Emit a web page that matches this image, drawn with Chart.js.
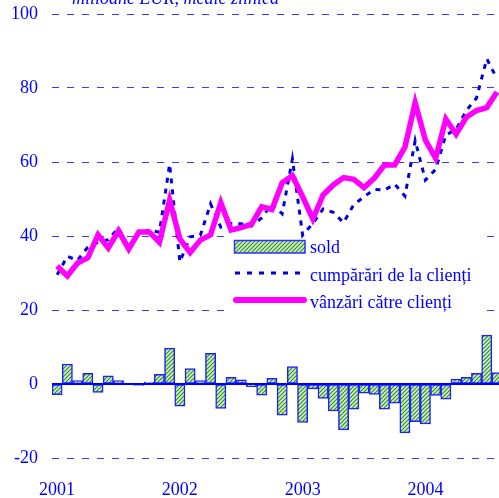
<!DOCTYPE html>
<html>
<head>
<meta charset="utf-8">
<script src="https://cdn.jsdelivr.net/npm/chart.js@4.4.0/dist/chart.umd.min.js"></script>
<style>
html, body { margin: 0; padding: 0; overflow: hidden; background: #fff; }
#wrap { width: 499px; height: 498px; overflow: hidden; }
</style>
</head>
<body>
<div id="wrap"><canvas id="grafic" width="510" height="498"></canvas></div>
<script>
// lunile si anii de pe axa x
var lunileAnului = ['ian', 'feb', 'mar', 'apr', 'mai', 'iun', 'iul', 'aug', 'sep', 'oct', 'noi', 'dec'];
var ani = ['2001', '2002', '2003', '2004'];
var nrLuni = 44; // ian 2001 - aug 2004 (ultima luna taiata de margine)

// milioane EUR, medie zilnica
var sold = [
    -2.9, 5.4, 0.9, 2.9, -2.3, 2.2, 0.9, 0.2, -0.4, 0.5, 2.6, 9.7,
    -6.0, 4.2, 0.9, 8.3, -6.6, 1.8, 1.1, -0.7, -3.0, 1.5, -8.4, 4.7,
    -10.4, -1.3, -3.9, -7.3, -12.4, -6.8, -2.5, -2.8, -6.8, -5.2, -13.2, -10.2,
    -10.8, -3.1, -4.1, 1.3, 1.8, 2.9, 13.2, 3.1
];
var cumparari = [
    29.5, 34.5, 33.4, 37.0, 38.3, 39.0, 42.2, 36.8, 40.7, 41.6, 41.0, 59.4,
    33.0, 39.8, 40.2, 48.7, 42.4, 43.4, 43.3, 42.7, 44.9, 48.7, 46.0, 60.8,
    40.2, 43.4, 47.3, 46.4, 43.6, 48.5, 50.6, 52.6, 52.4, 54.0, 50.8, 65.8,
    55.1, 58.0, 67.3, 68.8, 73.9, 77.3, 87.9, 82.5
];
var vanzari = [
    31.9, 29.2, 32.7, 34.1, 40.3, 36.8, 41.4, 36.5, 41.1, 41.1, 38.3, 49.7,
    39.2, 35.5, 38.9, 40.3, 49.0, 41.6, 42.3, 43.2, 47.9, 47.2, 54.4, 56.3,
    50.6, 44.6, 51.1, 53.8, 55.8, 55.3, 53.1, 55.6, 59.2, 59.2, 64.0, 76.0,
    65.9, 61.0, 71.6, 67.5, 72.1, 73.9, 74.7, 78.9
];
var numeSerii = ['sold', 'cumpărări de la clienți', 'vânzări către clienți'];
var titlu = 'milioane EUR, medie zilnică';

var luni = [];
ani.forEach(an => {
    lunileAnului.forEach(l => luni.push(l + ' ' + an));
});
luni = luni.slice(0, nrLuni);

const culori = {
    albastru: '#0000ff',
    grila: '#3a3aff',
    punctat: '#0000dd',
    magenta: '#ff00ff',
    verdeDeschis: '#d6f2c4',
    verdeInchis: '#2f8f2f'
};
const font = "'Liberation Serif', 'Times New Roman', serif";

// hasura verde pentru bare
function hasura() {
    let c = document.createElement('canvas');
    c.width = 4;
    c.height = 4;
    let x = c.getContext('2d');
    x.fillStyle = culori.verdeDeschis;
    x.fillRect(0, 0, 4, 4);
    x.strokeStyle = culori.verdeInchis;
    x.lineWidth = 1.2;
    x.beginPath();
    x.moveTo(-1, 5); x.lineTo(5, -1);
    x.moveTo(-1, 1); x.lineTo(1, -1);
    x.moveTo(3, 5); x.lineTo(5, 3);
    x.stroke();
    return document.getElementById('grafic').getContext('2d').createPattern(c, 'repeat');
}
const model = hasura();

// linia zero, titlul si legenda
const extra = {
    id: 'extra',
    beforeDatasetsDraw(chart) {
        let ctx = chart.ctx;
        ctx.save();
        ctx.fillStyle = '#fff';
        ctx.fillRect(230, 233, 252, 83);
        ctx.restore();
    },
    afterDatasetsDraw(chart) {
        let ctx = chart.ctx;
        let area = chart.chartArea;
        let y0 = chart.scales.y.getPixelForValue(0);
        ctx.save();
        ctx.strokeStyle = culori.albastru;
        ctx.lineWidth = 2;
        ctx.beginPath();
        ctx.moveTo(area.left, y0);
        ctx.lineTo(area.right, y0);
        ctx.stroke();

        // titlu
        ctx.fillStyle = culori.albastru;
        ctx.font = 'italic 18px ' + font;
        ctx.textBaseline = 'alphabetic';
        ctx.fillText(titlu, 72, 4);

        // legenda
        ctx.fillStyle = model;
        ctx.fillRect(234.5, 240.5, 70.5, 12.5);
        ctx.strokeStyle = '#3030ff';
        ctx.lineWidth = 1.5;
        ctx.strokeRect(234.5, 240.5, 70.5, 12.5);

        ctx.strokeStyle = culori.punctat;
        ctx.lineWidth = 3;
        ctx.setLineDash([5, 7]);
        ctx.beginPath();
        ctx.moveTo(235, 273);
        ctx.lineTo(306, 273);
        ctx.stroke();
        ctx.setLineDash([]);

        ctx.strokeStyle = culori.magenta;
        ctx.lineWidth = 6;
        ctx.lineCap = 'round';
        ctx.beginPath();
        ctx.moveTo(236, 300);
        ctx.lineTo(304, 300);
        ctx.stroke();

        ctx.fillStyle = culori.albastru;
        ctx.font = '18px ' + font;
        ctx.fillText(numeSerii[0], 310, 253);
        ctx.fillText(numeSerii[1], 310, 281);
        ctx.fillText(numeSerii[2], 310, 308);
        ctx.restore();
    }
};

var grafic = new Chart(document.getElementById('grafic'), {
    type: 'bar',
    data: {
        labels: luni,
        datasets: [
            {
                type: 'line',
                label: numeSerii[2],
                data: vanzari,
                borderColor: culori.magenta,
                borderWidth: 5.5,
                pointRadius: 0,
                tension: 0,
                order: 0
            },
            {
                type: 'line',
                label: numeSerii[1],
                data: cumparari,
                borderColor: culori.punctat,
                borderWidth: 3,
                borderDash: [5, 6],
                pointRadius: 0,
                tension: 0,
                order: 1
            },
            {
                type: 'bar',
                label: numeSerii[0],
                data: sold,
                backgroundColor: model,
                borderColor: '#2020ff',
                borderWidth: 1.5,
                borderSkipped: false,
                barPercentage: 1,
                categoryPercentage: 1,
                order: 2
            }
        ]
    },
    options: {
        responsive: false,
        animation: false,
        devicePixelRatio: 1,
        layout: { padding: { top: 14, left: 0, right: 0, bottom: 0 } },
        plugins: {
            legend: { display: false },
            tooltip: { enabled: false }
        },
        scales: {
            x: {
                offset: true,
                grid: { display: false },
                border: { display: false },
                ticks: {
                    autoSkip: false,
                    maxRotation: 0,
                    padding: 13,
                    color: culori.albastru,
                    font: { family: font, size: 18 },
                    callback: function (val, i) {
                        return i % 12 === 0 ? ani[i / 12] : '';
                    }
                },
                afterFit: function (s) { s.height = 40; }
            },
            y: {
                min: -20,
                max: 100,
                grid: {
                    color: culori.grila,
                    lineWidth: 1,
                    drawTicks: false
                },
                border: { display: false, dash: [7, 8] },
                ticks: {
                    stepSize: 20,
                    padding: 14,
                    color: culori.albastru,
                    font: { family: font, size: 18 }
                },
                afterFit: function (s) {
                    s.width = 52;
                    s.paddingTop = 0;
                    s.paddingBottom = 0;
                }
            }
        }
    },
    plugins: [extra]
});
</script>
</body>
</html>
